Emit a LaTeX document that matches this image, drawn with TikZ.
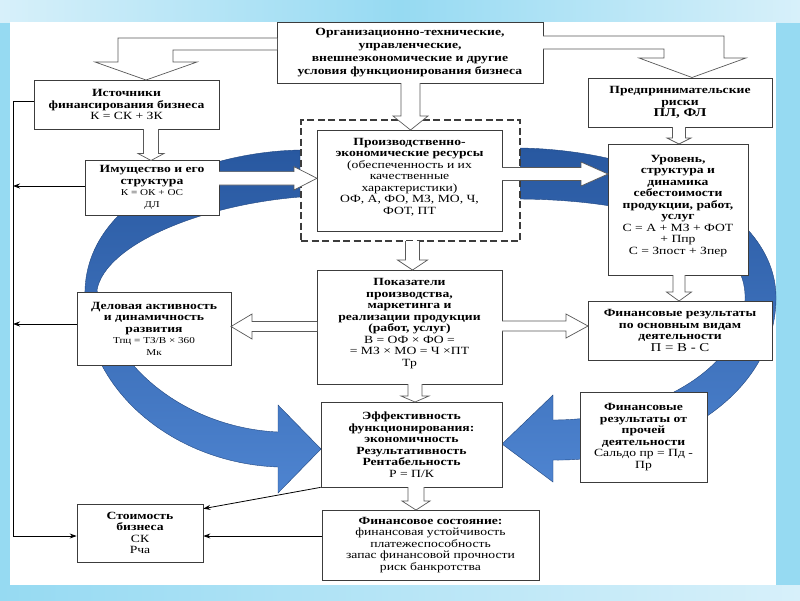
\documentclass[tikz,border=0pt]{standalone}
\usepackage{fontspec}
\setmainfont{Liberation Serif}[FakeStretch=1.24]
\usetikzlibrary{arrows.meta}
\definecolor{bgblue}{RGB}{150,218,242}
\definecolor{bglight}{RGB}{215,240,250}
\definecolor{arcdark}{RGB}{40,88,160}
\definecolor{arclight}{RGB}{78,132,208}
\definecolor{boxline}{RGB}{60,60,60}
\newcommand\bx[1]{\textbf{#1}}
\newcommand\smalltxt[1]{{\fontsize{9}{9.5}\selectfont #1}}
\newcommand\blkdown[6]{\draw[harrow] ({#1-#4},#2) -- ({#1-#4},{#3-#6}) -- ({#1-#5},{#3-#6}) -- (#1,#3) -- ({#1+#5},{#3-#6}) -- ({#1+#4},{#3-#6}) -- ({#1+#4},#2);}
\newcommand\blkright[6]{\draw[harrow] (#1,{#3-#4}) -- ({#2-#6},{#3-#4}) -- ({#2-#6},{#3-#5}) -- (#2,#3) -- ({#2-#6},{#3+#5}) -- ({#2-#6},{#3+#4}) -- (#1,{#3+#4});}
\newcommand\blkleft[6]{\draw[harrow] (#1,{#3-#4}) -- ({#2+#6},{#3-#4}) -- ({#2+#6},{#3-#5}) -- (#2,#3) -- ({#2+#6},{#3+#5}) -- ({#2+#6},{#3+#4}) -- (#1,{#3+#4});}
\tikzset{
  box/.style={draw=boxline, fill=white, line width=0.7pt, align=center, inner sep=1pt, font=\fontsize{11}{11.5}\selectfont},
  harrow/.style={draw=black!65, fill=white, line width=0.7pt, line join=miter},
  thinline/.style={draw=black, line width=0.8pt},
  tipend/.style={-{Stealth[length=7pt,width=5pt]}},
  arcband/.style={draw=arcdark!80!black, line width=0.4pt, top color=arcdark, bottom color=arclight}
}
\begin{document}
\begin{tikzpicture}[x=1pt,y=-1pt]
\useasboundingbox (0,0) rectangle (800,600);
% background frame
\fill[bgblue] (0,0) rectangle (800,600);
\shade[left color=bglight, right color=bgblue] (0,0) rectangle (400,22);
\shade[left color=bgblue, right color=bglight] (400,0) rectangle (800,22);
\shade[left color=bgblue, right color=bglight] (0,585) rectangle (800,600);
\fill[white] (10,22) rectangle (776,585);

% blue circular bands
\path[arcband] (300,150) .. controls (200,152) and (88,200) .. (85,290) .. controls (80,385) and (170,463) .. (278,467) -- (278,493) -- (321,449) -- (278,405) -- (278,432) .. controls (190,428) and (110,370) .. (97,290) .. controls (105,245) and (200,205) .. (300,197) -- cycle;
\path[arcband] (520,148) .. controls (650,150) and (778,210) .. (776,300) .. controls (774,400) and (660,462) .. (553,460) -- (553,482) -- (502,444) -- (553,395) -- (553,420) .. controls (650,420) and (742,370) .. (745,300) .. controls (748,230) and (640,200) .. (520,199) -- cycle;

% dashed frame
\node[draw=boxline, dash pattern=on 7pt off 3.5pt, line width=1.3pt, fill=white, minimum width=219, minimum height=121, inner sep=0] (dash) at (410.5,180.5) {};

% boxes
\node[box, minimum width=266, minimum height=61, font=\fontsize{11}{13.2}\selectfont] (top) at (410,52.5)
  {\bx{Организационно-технические,}\\\bx{управленческие,}\\\bx{внешнеэкономические и другие}\\\bx{условия функционирования бизнеса}};
\node[box, minimum width=185, minimum height=49] (ist) at (126.5,104.5)
  {\bx{Источники}\\\bx{финансирования бизнеса}\\К = СК + ЗК};
\node[box, minimum width=184, minimum height=49] (risk) at (680,102.5)
  {\bx{Предпринимательские}\\\bx{риски}\\{\fontsize{12}{13}\selectfont\bx{ПЛ, ФЛ}}};
\node[box, minimum width=134, minimum height=55] (imush) at (152,187.5)
  {\bx{Имущество и его}\\\bx{структура}\\\smalltxt{К = ОК + ОС}\\\smalltxt{ДЛ}};
\node[box, minimum width=185, minimum height=101] (prod) at (409.5,180.5)
  {\bx{Производственно-}\\\bx{экономические ресурсы}\\(обеспеченность и их\\качественные\\характеристики)\\ОФ, А, ФО, МЗ, МО, Ч,\\ФОТ, ПТ\\[-3pt]{}};
\node[box, minimum width=140, minimum height=131] (urov) at (678,209.5)
  {\bx{Уровень,}\\\bx{структура и}\\\bx{динамика}\\\bx{себестоимости}\\\bx{продукции, работ,}\\\bx{услуг}\\С = А + МЗ + ФОТ\\+ Ппр\\С = Зпост + Зпер\\[-2pt]{}};
\node[box, minimum width=154, minimum height=73] (del) at (154,328.5)
  {\bx{Деловая активность}\\\bx{и динамичность}\\\bx{развития}\\\smalltxt{Тпц = ТЗ/В × 360}\\\smalltxt{Мк}};
\node[box, minimum width=185, minimum height=114] (pok) at (409.5,327)
  {\bx{Показатели}\\\bx{производства,}\\\bx{маркетинга и}\\\bx{реализации продукции}\\\bx{(работ, услуг)}\\В = ОФ × ФО =\\= МЗ × МО = Ч ×ПТ\\Тр\\[-2pt]{}};
\node[box, minimum width=184, minimum height=59] (finos) at (680,330.5)
  {\bx{Финансовые результаты}\\\bx{по основным видам}\\\bx{деятельности}\\{\fontsize{12}{12}\selectfont П = В - С}};
\node[box, minimum width=127, minimum height=90] (proch) at (643.5,437)
  {\bx{Финансовые}\\\bx{результаты от}\\\bx{прочей}\\\bx{деятельности}\\Сальдо пр = Пд -\\Пр};
\node[box, minimum width=181, minimum height=85] (eff) at (411.5,444.5)
  {\bx{Эффективность}\\\bx{функционирования:}\\\bx{экономичность}\\\bx{Результативность}\\\bx{Рентабельность}\\Р = П/К};
\node[box, minimum width=126, minimum height=58] (stoim) at (140,533)
  {\bx{Стоимость}\\\bx{бизнеса}\\СК\\Рча};
\node[box, minimum width=217, minimum height=70] (finsost) at (430.5,545)
  {\bx{Финансовое состояние:}\\финансовая устойчивость\\платежеспособность\\запас финансовой прочности\\риск банкротства};

% hollow block arrows
\draw[harrow] (277,38) -- (118,38) -- (118,62) -- (95,62) -- (146,80) -- (197,62) -- (173,62) -- (173,50) -- (277,50);
\draw[harrow] (543,36) -- (724,36) -- (724,58) -- (746,58) -- (692,77.5) -- (639,58) -- (664,58) -- (664,49) -- (543,49);
\blkdown{410.5}{83}{130}{9.5}{17.5}{14}
\blkdown{151}{129}{160.5}{7.5}{13}{7}
\blkdown{679}{127}{144}{6.5}{12}{6}
\blkdown{412.5}{241}{270}{7}{15}{10}
\blkdown{679}{275}{301}{6}{12.5}{9}
\blkdown{415}{384}{402}{7}{14}{6}
\blkdown{416}{487}{510}{8}{14}{9}
\blkright{219}{317}{178.3}{6.7}{11.7}{23}
\blkright{502}{608}{174}{6.5}{12}{27}
\blkright{502}{588}{326}{5}{12}{22}
\blkleft{317}{231}{326.5}{5}{12.5}{21}

% thin connectors
\coordinate (lt) at (13,101.5);
\coordinate (lb) at (13,536);
\draw[thinline,tipend] ([yshift=3pt]ist.west) -- (lt) -- (lb) -- (lb -| stoim.west);
\draw[thinline,tipend] ([yshift=1.5pt]imush.west) -- ([yshift=1.5pt]imush.west -| lt);
\draw[thinline,tipend] ([yshift=4.5pt]del.west) -- ([yshift=4.5pt]del.west -| lt);
\draw[thinline,tipend] (eff.south west) -- ([yshift=-5pt]stoim.north east);
\draw[thinline,tipend] ([yshift=9pt]finsost.west) -- ([yshift=9pt]finsost.west -| stoim.east);
\end{tikzpicture}
\end{document}
